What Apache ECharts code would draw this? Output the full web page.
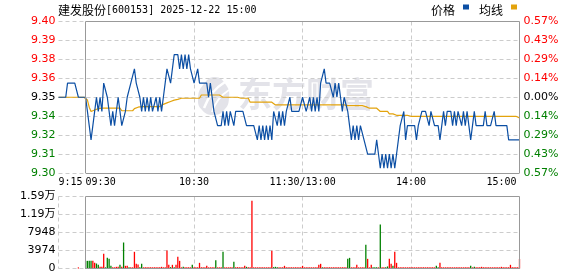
<!DOCTYPE html>
<html><head><meta charset="utf-8">
<script src="https://cdn.jsdelivr.net/npm/echarts@6/dist/echarts.min.js"></script>
<style>html,body{margin:0;padding:0;background:#fff}#c{width:578px;height:276px}</style>
</head><body><div id="c"></div>
<script>
// ---------- data ----------
const stockName = '建发股份';
const stockCode = '600153';
const stamp = '2025-12-22 15:00';
const PRE_CLOSE = 9.35;
const seriesNames = ['价格', '均线'];

// x tick labels (category value -> shown text)
const tickLabels = {'09:15':'9:15','09:30':'09:30','10:30':'10:30','11:30':'11:30/13:00','14:00':'14:00','15:00':'15:00'};
const gridTimes = ['10:30','11:30','14:00'];

// pre-market 09:15-09:29
const prePrice = [9.35,9.35,9.35,9.35,9.35,9.36,9.36,9.36,9.36,9.36,9.36,9.35,9.35,9.35,9.35];
const preAvg   = [9.35,9.35,9.35,9.35,9.35,9.35,9.35,9.35,9.35,9.35,9.35,9.35,9.35,9.35,9.35];
const preVol   = [0,0,0,0,0,0,0,0,0,0,0,250,0,0,0];

// 09:30-11:30, 13:01-15:00 (241 minutes)
const price = [
9.35,9.34,9.33,9.32,9.33,9.34,9.35,9.34,9.35,9.34,
9.36,9.36,9.35,9.34,9.33,9.34,9.33,9.34,9.35,9.34,
9.33,9.33,9.34,9.35,9.35,9.36,9.36,9.37,9.36,9.36,
9.35,9.34,9.35,9.34,9.35,9.34,9.35,9.34,9.34,9.35,
9.34,9.35,9.34,9.35,9.36,9.37,9.37,9.36,9.37,9.38,
9.38,9.38,9.37,9.38,9.37,9.38,9.37,9.38,9.37,9.37,
9.36,9.36,9.37,9.36,9.36,9.36,9.36,9.36,9.35,9.36,
9.35,9.34,9.34,9.33,9.33,9.33,9.34,9.33,9.34,9.33,
9.34,9.34,9.33,9.34,9.34,9.34,9.34,9.34,9.34,9.33,
9.33,9.33,9.33,9.33,9.33,9.32,9.33,9.32,9.33,9.32,
9.33,9.32,9.33,9.32,9.34,9.34,9.33,9.34,9.33,9.34,
9.33,9.34,9.34,9.35,9.34,9.34,9.34,9.34,9.34,9.34,
9.35,9.35,9.34,9.34,9.35,9.34,9.35,9.34,9.35,9.34,
9.36,9.36,9.37,9.36,9.36,9.36,9.36,9.35,9.36,9.35,
9.36,9.35,9.34,9.35,9.35,9.34,9.33,9.32,9.33,9.32,
9.33,9.32,9.33,9.33,9.32,9.32,9.31,9.31,9.31,9.31,
9.31,9.32,9.31,9.30,9.31,9.30,9.31,9.30,9.31,9.30,
9.31,9.30,9.31,9.32,9.33,9.33,9.34,9.32,9.33,9.33,
9.33,9.33,9.33,9.32,9.33,9.33,9.34,9.34,9.34,9.34,
9.33,9.34,9.34,9.33,9.33,9.33,9.32,9.33,9.34,9.33,
9.34,9.34,9.34,9.33,9.34,9.33,9.34,9.34,9.33,9.34,
9.33,9.34,9.33,9.32,9.33,9.34,9.33,9.33,9.33,9.33,
9.33,9.34,9.33,9.33,9.33,9.33,9.34,9.33,9.33,9.33,
9.33,9.33,9.33,9.33,9.32,9.32,9.32,9.32,9.32,9.32,
9.32];

const avgPrice = [
9.350,9.348,9.343,9.340,9.340,9.341,9.341,9.342,9.342,9.3423,
9.3423,9.3423,9.3423,9.3423,9.3423,9.3423,9.3423,9.3423,9.3423,9.3423,
9.3405,9.3405,9.3405,9.3405,9.3405,9.3405,9.3405,9.342,9.343,9.343,
9.3434,9.3434,9.3434,9.3434,9.3434,9.3434,9.3434,9.3434,9.3434,9.3434,
9.3434,9.3434,9.3434,9.345,9.346,9.346,9.347,9.347,9.3475,9.348,
9.348,9.3485,9.349,9.3493,9.3493,9.3493,9.3493,9.3493,9.3493,9.3493,
9.3493,9.3493,9.3493,9.3493,9.3516,9.3516,9.3516,9.3516,9.3516,9.3516,
9.3516,9.3516,9.3516,9.3516,9.3516,9.3516,9.3500,9.3500,9.3500,9.3500,
9.3500,9.3500,9.3500,9.3500,9.3500,9.3493,9.3493,9.3493,9.3493,9.3493,
9.3493,9.3465,9.3465,9.3465,9.3465,9.3465,9.3465,9.3465,9.3465,9.3465,
9.3465,9.3465,9.3465,9.3465,9.3465,9.3446,9.3446,9.3446,9.3446,9.3446,
9.3446,9.3446,9.3446,9.3446,9.3446,9.3446,9.3446,9.3446,9.3446,9.3446,
9.3446,9.3446,9.3446,9.3446,9.3446,9.3446,9.3446,9.3446,9.3446,9.3446,
9.3446,9.3446,9.3446,9.3446,9.3446,9.3446,9.3446,9.3446,9.3446,9.3446,
9.3446,9.3446,9.3446,9.3446,9.3446,9.3441,9.3441,9.3441,9.3441,9.3441,
9.3441,9.3441,9.3441,9.3441,9.3434,9.3434,9.3423,9.3423,9.3423,9.3423,
9.3423,9.3423,9.3423,9.3400,9.3400,9.3400,9.3400,9.3400,9.3383,9.3383,
9.3383,9.3383,9.3373,9.3373,9.3373,9.3373,9.3373,9.3373,9.3373,9.3373,
9.3366,9.3366,9.3366,9.3366,9.3366,9.3366,9.3366,9.3366,9.3366,9.3366,
9.3366,9.3366,9.3366,9.3366,9.3366,9.3366,9.3366,9.3366,9.3366,9.3366,
9.3366,9.3366,9.3366,9.3366,9.3366,9.3366,9.3366,9.3366,9.3366,9.3366,
9.3366,9.3366,9.3366,9.3366,9.3366,9.3366,9.3366,9.3366,9.3366,9.3366,
9.3366,9.3366,9.3366,9.3366,9.3366,9.3366,9.3366,9.3366,9.3366,9.3366,
9.3366,9.3366,9.3366,9.3366,9.3366,9.3366,9.3366,9.3366,9.3366,9.3366,
9.3355];

const volume = [
1690,1690,1690,1690,1690,1250,1100,810,370,370,
3240,260,2350,2130,590,260,260,370,370,810,
370,5740,590,590,260,260,260,3680,1030,880,
300,1030,260,260,260,260,260,260,260,260,
260,260,370,260,260,3970,810,300,810,300,
810,2580,1690,260,370,260,260,260,260,810,
260,260,260,1250,300,260,260,590,260,260,
260,260,1840,260,260,260,3680,260,260,260,
260,260,1470,300,300,260,260,260,590,370,
260,260,14940,260,260,260,260,260,260,260,
260,260,260,3900,300,370,260,260,260,260,
590,260,260,260,260,260,260,260,260,260,
590,260,260,260,260,260,260,260,260,810,
1030,260,260,260,260,260,260,260,260,260,
260,260,260,260,260,2130,2350,260,260,260,
810,260,260,260,260,5230,2130,260,810,300,
300,300,260,9720,300,260,300,450,2130,1030,
590,3680,1250,260,260,260,260,260,260,260,
260,260,260,260,260,260,260,260,260,260,
260,260,260,260,590,300,1250,260,260,260,
260,260,260,260,260,260,260,260,260,260,
260,260,260,590,260,370,260,260,260,370,
260,260,260,260,260,260,300,260,260,260,
370,260,260,260,260,810,300,260,260,260,
2130];
// minutes (index from 09:30) whose volume bar is green (down)
const greenBars = [0,1,2,3,6,7,11,12,13,14,19,21,24,30,31,47,49,54,59,72,76,82,89,104,105,106,131,145,146,155,159,160,161,163,166,167,170,194,195,213,215];

const volTickValues = [0, 3974, 7948, 11922, 15896];
const pctMax = 0.5706;   // top of price scale in %

// ---------- build ----------
function pad(n){return (n<10?'0':'')+n;}
const cats = [];
for (let m = 9*60+15; m < 9*60+30; m++) cats.push(pad(Math.floor(m/60))+':'+pad(m%60));
for (let m = 9*60+30; m <= 11*60+30; m++) cats.push(pad(Math.floor(m/60))+':'+pad(m%60));
for (let m = 13*60+1; m <= 15*60; m++) cats.push(pad(Math.floor(m/60))+':'+pad(m%60));
const toPct = p => (p / PRE_CLOSE - 1) * 100;
const allPrice = prePrice.concat(price).map(toPct);
const allAvg = preAvg.concat(avgPrice).map(toPct);
const RED = '#ff0000', GREEN = '#008000';
const volData = preVol.map(v => ({value: v, itemStyle: {color: RED}})).concat(
  volume.map((v, i) => ({value: v, itemStyle: {color: greenBars.indexOf(i) >= 0 ? GREEN : RED}})));
const IV = pctMax / 4;
const YM = 4 * IV;
const VMAX = volTickValues[volTickValues.length - 1];
const i0930 = cats.indexOf('09:30'), i1500 = cats.indexOf('15:00');
const gridIdx = gridTimes.map(t => cats.indexOf(t));

const BLUE = '#0c4fa4', GOLD = '#e3a30c';
const lblColor = v => { v = parseFloat(v); return Math.abs(v) < 1e-7 ? '#000' : (v > 0 ? RED : GREEN); };
const dash = {color: '#cccccc', type: [4, 3], width: 1};
const boxLine = {color: '#999999', width: 1, type: 'solid'};
function box(ymin, ymax){
  return {silent: true, symbol: 'none', animation: false, label: {show: false},
    lineStyle: boxLine, emphasis: {disabled: true},
    data: [
      [{coord: [i0930, ymax]}, {coord: [i1500, ymax]}],
      [{coord: [i0930, ymin]}, {coord: [i1500, ymin]}],
      [{coord: [i0930, ymin]}, {coord: [i0930, ymax]}],
      [{coord: [i1500, ymin]}, {coord: [i1500, ymax]}]
    ]};
}
const SQ = 'path://M0,0H6V5H0Z M0,11H6';
const mono = {fontFamily: 'DejaVu Sans Mono', fontSize: 10, color: '#000', fontWeight: 'normal'};
const wmFill = 'rgba(200,200,212,0.5)';

const chart = echarts.init(document.getElementById('c'), null, {renderer: 'canvas'});
chart.setOption({
  animation: false,
  backgroundColor: '#fff',
  title: {
    text: '{a|' + stockName + '}{b|[' + stockCode + '] ' + stamp + '}',
    left: 58, top: 3, padding: 0,
    textStyle: {fontWeight: 'normal', rich: {
      a: {fontFamily: 'Noto Sans CJK SC', fontSize: 12, color: '#000', lineHeight: 14, fontWeight: 'normal'},
      b: Object.assign({lineHeight: 14}, mono)
    }}
  },
  legend: {
    left: 431, top: 4, padding: 0, itemGap: 10, itemWidth: 6, itemHeight: 11, align: 'right',
    selectedMode: false,
    textStyle: {fontFamily: 'Noto Sans CJK SC', fontSize: 12, color: '#000', padding: [0, 3, 0, 0]},
    itemStyle: {borderWidth: 0},
    data: [{name: seriesNames[0], icon: SQ}, {name: seriesNames[1], icon: SQ}]
  },
  graphic: [
    {type: 'group', left: 198, top: 77, z: 0, silent: true, children: [
      {type: 'polygon', shape: {points: [[18,0],[29,8],[32,21],[27,33],[16,38],[5,33],[1,22],[6,8]], smooth: 0.5},
       style: {fill: wmFill}},
      {type: 'bezierCurve', shape: {x1: 7, y1: 31, cpx1: 11, cpy1: 20, cpx2: 18, cpy2: 11, x2: 28, y2: 5},
       style: {fill: null, stroke: '#fff', lineWidth: 2.5}},
      {type: 'bezierCurve', shape: {x1: 15, y1: 35, cpx1: 18, cpy1: 26, cpx2: 24, cpy2: 18, x2: 32, y2: 13},
       style: {fill: null, stroke: '#fff', lineWidth: 2}}
    ]},
    {type: 'text', left: 238, top: 77, z: 0, silent: true,
     style: {text: '东方财富', font: 'bold 34px "Noto Sans CJK SC"', fill: wmFill}}
  ],
  grid: [
    {left: 58.5, width: 461, top: 21.5, height: 151.5},
    {left: 58.5, width: 461, top: 196.5, height: 72}
  ],
  xAxis: [
    {type: 'category', gridIndex: 0, data: cats, boundaryGap: false,
     axisLine: {show: false}, axisTick: {show: false},
     axisLabel: Object.assign({
       interval: (i, v) => tickLabels.hasOwnProperty(v), margin: 4,
       formatter: v => {
         const t = tickLabels[v];
         if (v === '09:15') return '{l|' + t + '}';
         if (v === '09:30') return '{m|' + t + '}';
         if (v === '15:00') return '{r|' + t + '}';
         return '{c|' + t + '}';
       },
       rich: {
         l: Object.assign({padding: [0, 0, 0, 24]}, mono),
         m: Object.assign({padding: [0, 0, 0, 30]}, mono),
         c: Object.assign({}, mono),
         r: Object.assign({padding: [0, 36, 0, 0]}, mono)
       }
     }, mono),
     splitLine: {show: true, interval: (i) => gridIdx.indexOf(i) >= 0, lineStyle: dash}
    },
    {type: 'category', gridIndex: 1, data: cats, boundaryGap: false,
     axisLine: {show: false}, axisTick: {show: false}, axisLabel: {show: false},
     splitLine: {show: true, interval: (i) => i === 0 || gridIdx.indexOf(i) >= 0, lineStyle: dash}
    }
  ],
  yAxis: [
    {type: 'value', gridIndex: 0, position: 'left', min: -YM, max: YM, interval: IV,
     axisLine: {show: false}, axisTick: {show: false},
     axisLabel: {margin: 3, fontFamily: 'DejaVu Sans', fontSize: 11, color: lblColor,
       formatter: v => (PRE_CLOSE * (1 + v / 100)).toFixed(2)},
     splitLine: {show: true, lineStyle: dash}
    },
    {type: 'value', gridIndex: 0, position: 'right', min: -YM, max: YM, interval: IV,
     axisLine: {show: false}, axisTick: {show: false},
     axisLabel: {margin: 4, fontFamily: 'DejaVu Sans', fontSize: 11, color: lblColor,
       formatter: v => Math.abs(v).toFixed(2) + '%'},
     splitLine: {show: false}
    },
    {type: 'value', gridIndex: 1, min: 0, max: VMAX, interval: volTickValues[1],
     axisLine: {show: false}, axisTick: {show: false},
     axisLabel: {margin: 3, fontFamily: 'DejaVu Sans, Noto Sans CJK SC', fontSize: 11, color: '#000',
       formatter: v => v >= 10000 ? (v / 10000).toFixed(2) + '万' : String(v)},
     splitLine: {show: true, lineStyle: dash}
    }
  ],
  series: [
    {name: seriesNames[0], type: 'line', xAxisIndex: 0, yAxisIndex: 0, data: allPrice,
     showSymbol: false, symbol: 'none', z: 4, itemStyle: {color: BLUE},
     lineStyle: {color: BLUE, width: 1.2}, emphasis: {disabled: true},
     markLine: box(-YM, YM)},
    {name: seriesNames[1], type: 'line', xAxisIndex: 0, yAxisIndex: 0, data: allAvg,
     showSymbol: false, symbol: 'none', z: 3, itemStyle: {color: GOLD},
     lineStyle: {color: GOLD, width: 1.2}, emphasis: {disabled: true}},
    {name: 'vol', type: 'bar', xAxisIndex: 1, yAxisIndex: 2, data: volData,
     barWidth: 1.3, z: 3, emphasis: {disabled: true},
     markLine: box(0, VMAX)}
  ]
});
</script></body></html>
